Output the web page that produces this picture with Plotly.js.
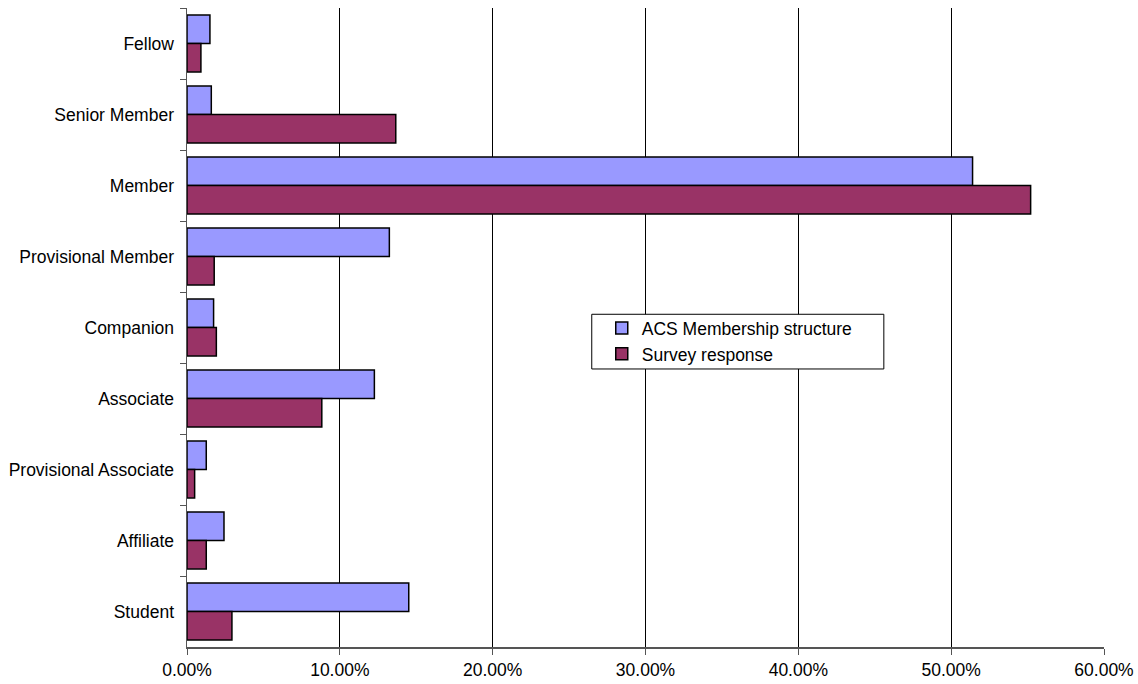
<!DOCTYPE html>
<html>
<head>
<meta charset="utf-8">
<script src="https://cdn.plot.ly/plotly-3.0.1.min.js"></script>
<style>html,body{margin:0;padding:0;background:#fff;}#chart{width:1138px;height:684px;}</style>
</head>
<body>
<div id="chart"></div>
<script>
const categories = ["Fellow", "Senior Member", "Member", "Provisional Member", "Companion", "Associate", "Provisional Associate", "Affiliate", "Student"];
const acsMembership = [1.50, 1.59, 51.4, 13.24, 1.74, 12.26, 1.26, 2.42, 14.51];
const surveyResponse = [0.91, 13.66, 55.2, 1.78, 1.92, 8.82, 0.50, 1.26, 2.94];
const xTickValues = [0, 10, 20, 30, 40, 50, 60];
const xTickLabels = ["0.00%", "10.00%", "20.00%", "30.00%", "40.00%", "50.00%", "60.00%"];

const font = {family: "Liberation Sans, Arial, sans-serif", size: 17.5, color: "#000"};

const traces = [
  {type: "bar", orientation: "h", name: "ACS Membership structure", y: categories, x: acsMembership,
   marker: {color: "#9999FF", line: {color: "#000", width: 1.5}}, hoverinfo: "skip"},
  {type: "bar", orientation: "h", name: "Survey response", y: categories, x: surveyResponse,
   marker: {color: "#993366", line: {color: "#000", width: 1.5}}, hoverinfo: "skip"}
];

const layout = {
  width: 1138, height: 684,
  margin: {l: 187, r: 34, t: 8, b: 37, pad: 0},
  paper_bgcolor: "#fff", plot_bgcolor: "#fff",
  font: font,
  barmode: "group", bargap: 0.2, bargroupgap: 0,
  showlegend: true,
  legend: {x: 0.4523, y: 0.527, xanchor: "left", yanchor: "top", bgcolor: "rgba(0,0,0,0)",
           borderwidth: 0, font: font, traceorder: "normal", itemwidth: 30},
  shapes: [{type: "rect", xref: "paper", yref: "paper", layer: "above",
            x0: 0.4414, x1: 0.7599, y0: 0.4351, y1: 0.5207,
            line: {color: "#000", width: 1}, fillcolor: "#fff"}],
  xaxis: {range: [0, 60], tickvals: xTickValues, ticktext: xTickLabels,
          showgrid: true, gridcolor: "#000", gridwidth: 1, zeroline: false,
          showline: true, linecolor: "#555", linewidth: 1.5,
          ticks: "outside", ticklen: 6, tickcolor: "#555", tickfont: font, fixedrange: true},
  yaxis: {type: "category", autorange: "reversed", showgrid: false, zeroline: false,
          showline: true, linecolor: "#555", linewidth: 1.5,
          ticks: "outside", tickson: "boundaries", ticklen: 6, tickcolor: "#555",
          tickfont: font, ticklabelstandoff: 8, fixedrange: true}
};

Plotly.newPlot("chart", traces, layout, {staticPlot: true, displayModeBar: false});
</script>
</body>
</html>
